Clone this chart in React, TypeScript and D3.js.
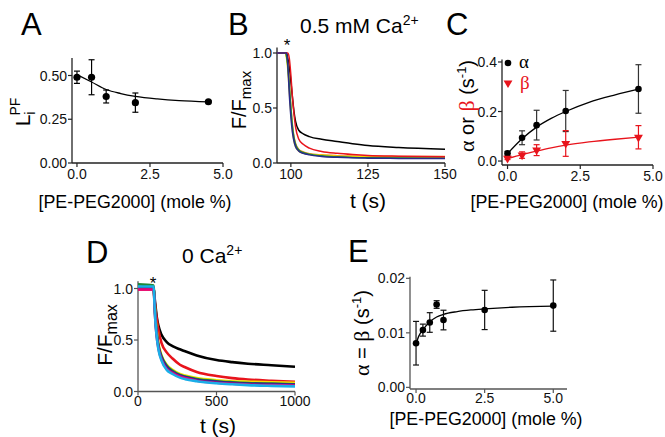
import React from 'react';
import * as d3 from 'd3';

const FONT = '"Liberation Sans", Arial, Helvetica, sans-serif';
const GREEK = '"Liberation Serif", "Times New Roman", serif';

// A: L_i^PF vs [PE-PEG2000]
const aDose = [0, 0.5, 1, 2, 4.5];
const aMean = [0.49, 0.49, 0.38, 0.345, 0.35];
const aErr = [0.035, 0.1, 0.037, 0.055, 0.006];
const aFitDose = [0, 0.5, 1, 1.5, 2, 2.75, 3.5, 4.5];
const aFit = [0.505, 0.463, 0.42, 0.397, 0.381, 0.366, 0.356, 0.349];

// B: traces at 0.5 mM Ca2+
const bTime = [95.5, 98.2, 98.6, 99, 99.5, 100, 100.5, 101, 101.5, 102.5, 104, 106, 110, 115, 120, 125, 135, 150];
const bBlack = [1, 1, 1, 0.95, 0.87, 0.74, 0.6, 0.47, 0.38, 0.3, 0.265, 0.24, 0.215, 0.195, 0.175, 0.158, 0.14, 0.125];
const bRed = [1, 1, 1, 1, 0.95, 0.8, 0.6, 0.45, 0.33, 0.22, 0.17, 0.135, 0.105, 0.088, 0.077, 0.069, 0.062, 0.057];
const bOrange = [1, 1, 0.97, 0.9, 0.72, 0.52, 0.35, 0.24, 0.18, 0.125, 0.1, 0.085, 0.074, 0.067, 0.063, 0.061, 0.06, 0.059];
const bYellow = [1, 1, 0.95, 0.85, 0.65, 0.45, 0.3, 0.2, 0.15, 0.11, 0.09, 0.079, 0.07, 0.062, 0.058, 0.055, 0.053, 0.052];
const bGreen = [1, 1, 0.97, 0.88, 0.7, 0.5, 0.33, 0.23, 0.17, 0.12, 0.095, 0.08, 0.065, 0.056, 0.05, 0.047, 0.045, 0.044];
const bNavy = [1, 1, 1, 0.9, 0.62, 0.42, 0.28, 0.2, 0.15, 0.11, 0.088, 0.074, 0.06, 0.052, 0.047, 0.044, 0.042, 0.04];

// C: alpha and beta vs [PE-PEG2000]
const cDose = [0, 0.5, 1, 2, 4.5];
const cAlpha = [0.031, 0.094, 0.145, 0.202, 0.291];
const cAlphaErr = [0.008, 0.028, 0.06, 0.083, 0.098];
const cBeta = [0.011, 0.024, 0.044, 0.071, 0.096];
const cBetaErr = [0.005, 0.013, 0.022, 0.052, 0.047];
const cFitDose = [0, 0.5, 1, 1.5, 2, 2.8, 3.7, 4.5];
const cAlphaFit = [0.03, 0.09, 0.137, 0.172, 0.2, 0.237, 0.267, 0.29];
const cBetaFit = [0.01, 0.026, 0.04, 0.053, 0.064, 0.077, 0.088, 0.096];

// D: traces at 0 Ca2+
const dTime = [0, 100, 105, 110, 120, 130, 150, 183, 220, 267, 300, 374, 500, 600, 700, 850, 1000];
const dBlack = [1.0, 1.0, 0.92, 0.85, 0.72, 0.64, 0.55, 0.48, 0.44, 0.41, 0.39, 0.35, 0.305, 0.285, 0.27, 0.255, 0.24];
const dRed = [0.99, 0.99, 0.9, 0.82, 0.7, 0.6, 0.47, 0.38, 0.32, 0.26, 0.235, 0.19, 0.15, 0.13, 0.117, 0.105, 0.095];
const dYellow = [1.0, 1.0, 0.88, 0.75, 0.58, 0.47, 0.35, 0.26, 0.21, 0.17, 0.155, 0.13, 0.11, 0.1, 0.095, 0.09, 0.085];
const dGreen = [1.04, 1.03, 0.88, 0.74, 0.56, 0.45, 0.34, 0.25, 0.2, 0.16, 0.145, 0.12, 0.1, 0.09, 0.082, 0.076, 0.07];
const dNavy = [1.01, 1.01, 0.86, 0.72, 0.55, 0.44, 0.33, 0.24, 0.19, 0.155, 0.14, 0.115, 0.095, 0.085, 0.078, 0.072, 0.068];
const dMagenta = [0.99, 0.99, 0.85, 0.7, 0.52, 0.42, 0.31, 0.22, 0.18, 0.145, 0.13, 0.105, 0.085, 0.075, 0.068, 0.062, 0.058];
const dCyan = [1.02, 1.02, 0.85, 0.7, 0.52, 0.41, 0.3, 0.21, 0.17, 0.135, 0.12, 0.1, 0.08, 0.07, 0.062, 0.055, 0.05];

// E: alpha = beta vs [PE-PEG2000]
const eDose = [0, 0.25, 0.5, 0.75, 1, 2.5, 5];
const eRate = [0.0081, 0.0105, 0.0119, 0.0152, 0.01235, 0.0142, 0.015];
const eErr = [0.004, 0.0011, 0.0018, 0.0007, 0.0018, 0.0036, 0.0047];
const eFitDose = [0, 0.1, 0.25, 0.5, 0.75, 1, 1.5, 2, 2.5, 3.5, 5];
const eFit = [0.008, 0.0094, 0.0106, 0.012, 0.0129, 0.0134, 0.0139, 0.0142, 0.0144, 0.0147, 0.0149];

const doseTicks = [0, 2.5, 5];
const aYTicks = [0, 0.25, 0.5];
const bXTicks = [100, 125, 150];
const fTicks = [0, 0.5, 1];
const cYTicks = [0, 0.2, 0.4];
const dXTicks = [0, 500, 1000];
const eYTicks = [0, 0.01, 0.02];

type Scale = d3.ScaleLinear<number, number>;

function Axes(props: {
  x: Scale; y: Scale; xTicks: number[]; yTicks: number[];
  xFmt: (v: number) => string; yFmt: (v: number) => string; stroke: string; labelGap?: number;
}) {
  const { x, y, xTicks, yTicks, xFmt, yFmt, stroke } = props;
  const gap = props.labelGap ?? 16;
  const [x0, x1] = x.range();
  const [y0, y1] = y.range();
  return (
    <g fontFamily={FONT} fontSize={14} fill="#111">
      <line x1={x0} x2={x1} y1={y0} y2={y0} stroke={stroke} strokeWidth={1.3} />
      <line x1={x0} x2={x0} y1={y0} y2={y1} stroke={stroke} strokeWidth={1.3} />
      {xTicks.map((t) => (
        <g key={'x' + t}>
          <line x1={x(t)} x2={x(t)} y1={y0} y2={y0 + 4} stroke={stroke} strokeWidth={1.2} />
          <text x={x(t)} y={y0 + gap} textAnchor="middle">{xFmt(t)}</text>
        </g>
      ))}
      {yTicks.map((t) => (
        <g key={'y' + t}>
          <line x1={x0 - 4} x2={x0} y1={y(t)} y2={y(t)} stroke={stroke} strokeWidth={1.2} />
          <text x={x0 - 5} y={y(t) + 5} textAnchor="end">{yFmt(t)}</text>
        </g>
      ))}
    </g>
  );
}

function ErrBars(props: { x: Scale; y: Scale; xs: number[]; ys: number[]; err: number[]; color: string }) {
  const { x, y, xs, ys, err, color } = props;
  return (
    <g stroke={color} strokeWidth={1.2}>
      {xs.map((d, i) => (
        <g key={i}>
          <line x1={x(d)} x2={x(d)} y1={y(ys[i] - err[i])} y2={y(ys[i] + err[i])} />
          <line x1={x(d) - 3} x2={x(d) + 3} y1={y(ys[i] - err[i])} y2={y(ys[i] - err[i])} />
          <line x1={x(d) - 3} x2={x(d) + 3} y1={y(ys[i] + err[i])} y2={y(ys[i] + err[i])} />
        </g>
      ))}
    </g>
  );
}

function fitPath(x: Scale, y: Scale, xs: number[], ys: number[]) {
  const line = d3.line<number>().x((d) => x(d)).y((_, i) => y(ys[i])).curve(d3.curveMonotoneX);
  return line(xs) || '';
}

const f2 = d3.format('.2f');
const f1 = d3.format('.1f');

const PEG = '[PE-PEG2000] (mole %)';

export default function App() {
  // scales (domains include the offset axis ends)
  const ax = d3.scaleLinear().domain([-0.17, 5]).range([72, 223]);
  const ay = d3.scaleLinear().domain([0, 0.6]).range([163, 58]);

  const bx = d3.scaleLinear().domain([95.5, 150]).range([277, 445]);
  const by = d3.scaleLinear().domain([0, 1.05]).range([163, 47.5]);

  const cx = d3.scaleLinear().domain([-0.19, 5]).range([502, 653]);
  const cy = d3.scaleLinear().domain([-0.016, 0.41]).range([165, 59.5]);

  const dx = d3.scaleLinear().domain([0, 1000]).range([138, 295]);
  const dy = d3.scaleLinear().domain([0, 1.07]).range([391.5, 281.3]);

  const ex = d3.scaleLinear().domain([-0.22, 5.5]).range([410, 567]);
  const ey = d3.scaleLinear().domain([-0.0003, 0.0203]).range([389, 276.7]);

  const bTraces = [
    { c: '#000000', v: bBlack },
    { c: '#f28c1a', v: bOrange },
    { c: '#f2e200', v: bYellow },
    { c: '#1a8a3a', v: bGreen },
    { c: '#e8141c', v: bRed },
    { c: '#2a2a8c', v: bNavy },
  ];
  const dTraces = [
    { c: '#000000', v: dBlack },
    { c: '#e8141c', v: dRed },
    { c: '#f2e200', v: dYellow },
    { c: '#1a8a3a', v: dGreen },
    { c: '#2a2a8c', v: dNavy },
    { c: '#e6007e', v: dMagenta },
    { c: '#1aaee8', v: dCyan },
  ];

  const traceLine = (x: Scale, y: Scale, ts: number[], vs: number[]) =>
    d3.line<number>().x((d) => x(d)).y((_, i) => y(vs[i])).curve(d3.curveMonotoneX)(ts) || '';

  const tri = d3.symbol().type(d3.symbolTriangle).size(34)() || '';

  return (
    <svg width={665} height={437} style={{ position: 'absolute', left: 0, top: 0, background: '#fff' }}
      fontFamily={FONT}>
      <rect width={665} height={437} fill="#fff" />

      {/* panel letters */}
      <g fontSize={31} fill="#000">
        <text x={21} y={35}>A</text>
        <text x={228} y={35}>B</text>
        <text x={446} y={35}>C</text>
        <text x={86} y={263}>D</text>
        <text x={348} y={262}>E</text>
      </g>

      {/* ---------- A ---------- */}
      <Axes x={ax} y={ay} xTicks={doseTicks} yTicks={aYTicks} xFmt={f1} yFmt={f2} stroke="#222" />
      <path d={fitPath(ax, ay, aFitDose, aFit)} fill="none" stroke="#000" strokeWidth={1.3} />
      <ErrBars x={ax} y={ay} xs={aDose} ys={aMean} err={aErr} color="#000" />
      {aDose.map((d, i) => <circle key={i} cx={ax(d)} cy={ay(aMean[i])} r={3.6} fill="#000" />)}
      <text transform="translate(30,112) rotate(-90)" textAnchor="middle" fontSize={21}>
        L<tspan fontSize={14} dy={5}>i</tspan><tspan fontSize={14} dx={-4} dy={-15}>PF</tspan>
      </text>
      <text x={135} y={208} textAnchor="middle" fontSize={18} textLength={193} lengthAdjust="spacingAndGlyphs">{PEG}</text>

      {/* ---------- B ---------- */}
      <Axes x={bx} y={by} xTicks={bXTicks} yTicks={fTicks} xFmt={d3.format('d')} yFmt={f1} stroke="#222" />
      {bTraces.map((t, i) => (
        <path key={i} d={traceLine(bx, by, bTime, t.v)} fill="none" stroke={t.c} strokeWidth={1.5} />
      ))}
      <text x={287} y={51} textAnchor="middle" fontSize={17}>*</text>
      <text x={300} y={33} fontSize={21}>0.5 mM Ca<tspan fontSize={14} dy={-8}>2+</tspan></text>
      <text transform="translate(246,100) rotate(-90)" textAnchor="middle" fontSize={20}>
        F/F<tspan fontSize={15} dy={5}>max</tspan>
      </text>
      <text x={368} y={208} textAnchor="middle" fontSize={21}>t (s)</text>

      {/* ---------- C ---------- */}
      <Axes x={cx} y={cy} xTicks={doseTicks} yTicks={cYTicks} xFmt={f1} yFmt={f1} stroke="#222" />
      <path d={fitPath(cx, cy, cFitDose, cAlphaFit)} fill="none" stroke="#000" strokeWidth={1.3} />
      <path d={fitPath(cx, cy, cFitDose, cBetaFit)} fill="none" stroke="#e8141c" strokeWidth={1.3} />
      <ErrBars x={cx} y={cy} xs={cDose} ys={cAlpha} err={cAlphaErr} color="#333" />
      <ErrBars x={cx} y={cy} xs={cDose} ys={cBeta} err={cBetaErr} color="#e8141c" />
      {cDose.map((d, i) => <circle key={'a' + i} cx={cx(d)} cy={cy(cAlpha[i])} r={3.3} fill="#000" />)}
      {cDose.map((d, i) => (
        <path key={'b' + i} d={tri} transform={`translate(${cx(d)},${cy(cBeta[i])}) rotate(180)`} fill="#e8141c" />
      ))}
      <circle cx={508} cy={63} r={3.3} fill="#000" />
      <text x={519} y={68} fontSize={19} fontFamily={GREEK}>α</text>
      <path d={tri} transform="translate(508,83) rotate(180)" fill="#e8141c" />
      <text x={520} y={89} fontSize={19} fontFamily={GREEK} fill="#e8141c">β</text>
      <text transform="translate(474,106) rotate(-90)" textAnchor="middle" fontSize={20}>
        <tspan fontFamily={GREEK} fontSize={22}>α</tspan> or <tspan fontFamily={GREEK} fontSize={22} fill="#e8141c">β</tspan> (s<tspan fontSize={13} dy={-8}>-1</tspan><tspan dy={8}>)</tspan>
      </text>
      <text x={567} y={208} textAnchor="middle" fontSize={18} textLength={193} lengthAdjust="spacingAndGlyphs">{PEG}</text>

      {/* ---------- D ---------- */}
      <Axes x={dx} y={dy} xTicks={dXTicks} yTicks={fTicks} xFmt={d3.format('d')} yFmt={f1} stroke="#555" labelGap={14} />
      {dTraces.map((t, i) => (
        <path key={i} d={traceLine(dx, dy, dTime, t.v)} fill="none" stroke={t.c} strokeWidth={2.6} />
      ))}
      <text x={153} y={289} textAnchor="middle" fontSize={17}>*</text>
      <text x={182} y={263} fontSize={21}>0 Ca<tspan fontSize={14} dy={-8}>2+</tspan></text>
      <text transform="translate(112,335) rotate(-90)" textAnchor="middle" fontSize={21}>
        F/F<tspan fontSize={16} dy={5}>max</tspan>
      </text>
      <text x={218} y={433} textAnchor="middle" fontSize={21}>t (s)</text>

      {/* ---------- E ---------- */}
      <Axes x={ex} y={ey} xTicks={doseTicks} yTicks={eYTicks} xFmt={f1} yFmt={f2} stroke="#555" labelGap={14} />
      <path d={fitPath(ex, ey, eFitDose, eFit)} fill="none" stroke="#000" strokeWidth={1.3} />
      <ErrBars x={ex} y={ey} xs={eDose} ys={eRate} err={eErr} color="#111" />
      {eDose.map((d, i) => <circle key={i} cx={ex(d)} cy={ey(eRate[i])} r={3.3} fill="#000" />)}
      <text transform="translate(369,333) rotate(-90)" textAnchor="middle" fontSize={20}>
        <tspan fontFamily={GREEK} fontSize={22}>α</tspan> = <tspan fontFamily={GREEK} fontSize={22}>β</tspan> (s<tspan fontSize={13} dy={-8}>-1</tspan><tspan dy={8}>)</tspan>
      </text>
      <text x={486} y={425} textAnchor="middle" fontSize={18} textLength={193} lengthAdjust="spacingAndGlyphs">{PEG}</text>
    </svg>
  );
}
